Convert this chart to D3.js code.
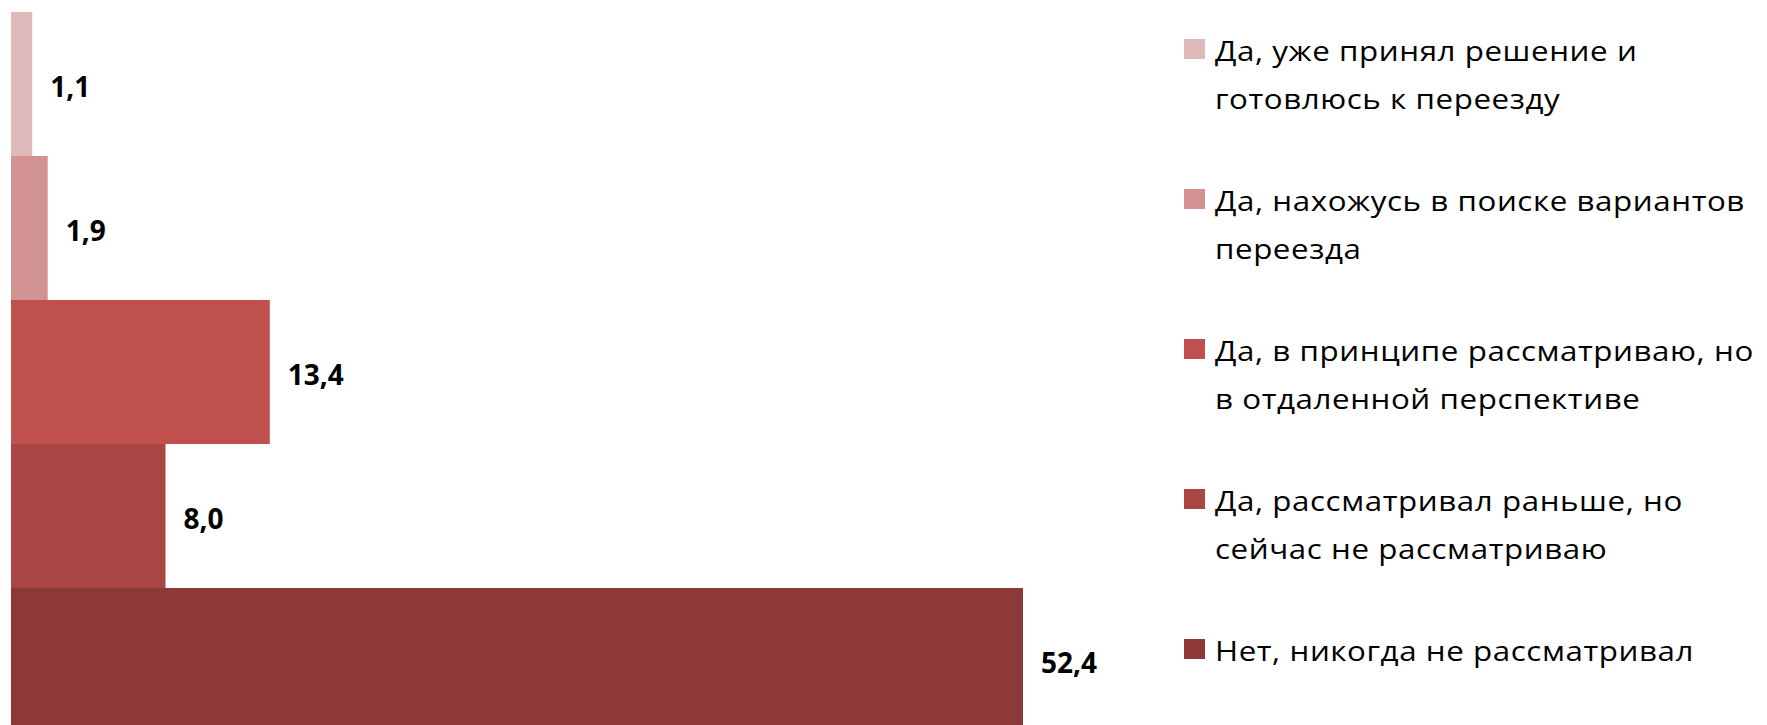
<!DOCTYPE html>
<html>
<head>
<meta charset="utf-8">
<script src="https://cdn.jsdelivr.net/npm/d3@7"></script>
<style>
  body { margin: 0; background: #fff; }
  svg { display: block; }
</style>
</head>
<body>
<div id="chart"></div>
<script>
// categories, top to bottom
const categories = [
  "Да, уже принял решение и готовлюсь к переезду",
  "Да, нахожусь в поиске вариантов переезда",
  "Да, в принципе рассматриваю, но в отдаленной перспективе",
  "Да, рассматривал раньше, но сейчас не рассматриваю",
  "Нет, никогда не рассматривал"
];
const values = [1.1, 1.9, 13.4, 8.0, 52.4];
const valueLabels = ["1,1", "1,9", "13,4", "8,0", "52,4"];
// legend text as it wraps in the picture
const legendLines = [
  ["Да, уже принял решение и", "готовлюсь к переезду"],
  ["Да, нахожусь в поиске вариантов", "переезда"],
  ["Да, в принципе рассматриваю, но", "в отдаленной перспективе"],
  ["Да, рассматривал раньше, но", "сейчас не рассматриваю"],
  ["Нет, никогда не рассматривал"]
];
const colors = ["#dfbaba", "#d19291", "#c0504d", "#a94542", "#8d3937"];

const width = 1767;
const height = 725;

const svg = d3.select("#chart")
  .append("svg")
  .attr("width", width)
  .attr("height", height)
  .style("overflow", "hidden");

const x = d3.scaleLinear()
  .domain([0, 52.4])
  .range([11, 1023]);

// bars touch each other; the last one runs off the bottom edge
const y = d3.scaleBand()
  .domain(categories)
  .range([12, 12 + 144 * categories.length])
  .padding(0);

const color = d3.scaleOrdinal()
  .domain(categories)
  .range(colors);

svg.selectAll("rect.bar")
  .data(categories)
  .join("rect")
  .attr("class", "bar")
  .attr("x", x(0))
  .attr("y", d => y(d))
  .attr("width", (d, i) => x(values[i]) - x(0))
  .attr("height", y.bandwidth())
  .attr("fill", d => color(d));

svg.selectAll("text.val")
  .data(categories)
  .join("text")
  .attr("class", "val")
  .attr("x", (d, i) => x(values[i]) + 18)
  .attr("y", d => y(d) + y.bandwidth() / 2 + 3)
  .attr("dy", "0.35em")
  .style("font-family", "'Open Sans', sans-serif")
  .style("font-weight", 700)
  .style("font-size", "28px")
  .attr("fill", "#000")
  .text((d, i) => valueLabels[i]);

// legend; the text in the picture is drawn wide, so stretch it sideways
const legend = svg.append("g")
  .attr("transform", "translate(1184,0)");

const item = legend.selectAll("g")
  .data(categories)
  .join("g")
  .attr("transform", (d, i) => `translate(0,${39 + i * 150})`);

item.append("rect")
  .attr("width", 21)
  .attr("height", 20)
  .attr("fill", d => color(d));

item.append("text")
  .attr("transform", "translate(31,0) scale(1.16,1)")
  .style("font-family", "'Open Sans', sans-serif")
  .style("font-size", "27px")
  .style("letter-spacing", "0.5px")
  .attr("fill", "#000")
  .selectAll("tspan")
  .data((d, i) => legendLines[i])
  .join("tspan")
  .attr("x", 0)
  .attr("y", (d, j) => 22 + j * 48)
  .text(d => d);
</script>
</body>
</html>
